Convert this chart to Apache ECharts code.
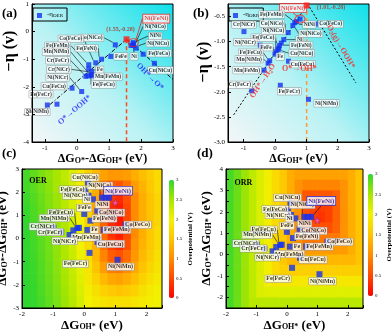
<!DOCTYPE html>
<html>
<head>
<meta charset="utf-8">
<script src="https://cdn.jsdelivr.net/npm/echarts@6/dist/echarts.min.js"></script>
<style>
html,body{margin:0;padding:0;background:#fff;}
#main{width:392px;height:333px;}
</style>
</head>
<body>
<div id="main"></div>
<script>
// compounds, same order in every array below
var names = ['Cu(NiCu)','Fe(FeCo)','Ni(NiCu)','Ni','Ni(NiCo)','NiNi','Ni(FeNi)','FeFe','Co(NiCo)','Fe(FeNi)','Co(FeCo)',
  'Fe','Fe(FeMn)','Fe(FeCu)','Mn(NiMn)','Mn(FeMn)','Cr(NiCr)','Cr(FeCr)','Ni(NiCr)','Cu(FeCu)','Fe(FeCr)','Ni(NiMn)'];
var dGOH = [0.12,0.04,0.14,0.28,0.57,0.68,0.80,0.00,0.42,0.20,1.33,0.10,0.63,-0.17,-0.22,-0.35,-0.99,-0.74,-0.47,0.43,0.17,1.07];
var dGOmOH = [2.42,2.07,1.85,1.69,1.76,1.76,1.76,1.06,1.20,0.77,0.59,0.37,0.37,0.46,0.45,0.35,0.47,0.28,0.15,-0.15,-0.62,-0.92];
var negEtaOER = [-1.15,-0.82,-0.60,-0.50,-0.50,-0.45,-0.40,-0.90,-0.48,-1.00,-1.13,-1.35,-1.20,-1.45,-1.60,-1.60,-1.55,-1.62,-2.17,-2.05,-2.63,-2.66];
var negEtaORR = [-1.13,-1.20,-1.08,-0.96,-0.68,-0.60,-0.55,-1.25,-0.82,-1.03,-0.65,-1.16,-0.62,-1.38,-1.43,-1.57,-0.80,-1.98,-1.07,-1.39,-1.87,-2.15];

var oerApex = [1.55, -0.28];
var orrApex = [1.01, -0.28];
var oerLeftLine = [[-1.05, -2.85], [1.55, -0.28]];
var oerRightLine = [[1.55, -0.28], [3.0, -1.73]];
var oerVertLine = [[1.55, -0.28], [1.55, -4]];
var orrLeftLine = [[-1.32, -2.46], [1.01, -0.28]];
var orrRightLine = [[1.10, -0.31], [2.58, -1.82]];
var orrVertLine = [[1.01, -0.25], [1.01, -3]];
var oerStar = [1.0, 1.55];
var orrStar = [1.0, 1.6];

var oerSteps = ['O*→OOH*', 'OH*→O*'];
var oerStepPos = [[-0.07, -2.84], [2.28, -1.63]];
var orrSteps = ['OH*→H{s|2}O', 'O*→OH*', 'O{s|2}(g)→OOH*'];
var orrStepPos = [[-0.39, -1.78], [0.78, -1.55], [2.1, -1.1]];

// overpotential maps, cell centres
var cellX = [-1.875,-1.625,-1.375,-1.125,-0.875,-0.625,-0.375,-0.125,0.125,0.375,0.625,0.875,1.125,1.375,1.625,1.875,2.125,2.375];
var oerCellY = [2.75,2.25,1.75,1.25,0.75,0.25,-0.25,-0.75,-1.25,-1.75,-2.25,-2.75];
var orrCellY = [3.75,3.25,2.75,2.25,1.75,1.25,0.75,0.25,-0.25,-0.75,-1.25,-1.75,-2.25];
var oerMap = [
  [2.90,2.80,2.70,2.60,2.50,2.35,2.15,1.90,1.65,1.40,1.20,1.10,1.10,1.15,1.30,1.45,1.60,1.75],
  [2.92,2.82,2.72,2.62,2.50,2.38,2.20,1.95,1.70,1.30,0.85,0.65,0.60,0.80,1.15,1.35,1.55,1.75],
  [2.95,2.85,2.75,2.65,2.55,2.40,2.20,1.95,1.70,1.25,0.65,0.40,0.30,0.55,1.00,1.30,1.50,1.70],
  [2.97,2.87,2.77,2.67,2.55,2.40,2.20,1.95,1.70,1.25,0.65,0.30,0.20,0.50,1.00,1.30,1.50,1.70],
  [2.99,2.89,2.78,2.68,2.57,2.43,2.23,2.00,1.70,1.30,0.70,0.30,0.15,0.50,1.00,1.30,1.50,1.70],
  [3.05,2.90,2.80,2.70,2.58,2.45,2.25,2.00,1.75,1.30,0.75,0.35,0.20,0.50,1.00,1.30,1.55,1.75],
  [3.10,2.92,2.82,2.72,2.60,2.45,2.25,2.00,1.75,1.35,0.80,0.45,0.30,0.55,1.05,1.35,1.55,1.75],
  [3.12,2.93,2.83,2.73,2.60,2.45,2.28,2.05,1.80,1.40,0.95,0.65,0.55,0.75,1.10,1.40,1.60,1.80],
  [3.15,2.95,2.85,2.75,2.63,2.48,2.30,2.10,1.85,1.50,1.15,0.90,0.85,1.00,1.25,1.50,1.70,1.85],
  [3.18,2.96,2.86,2.76,2.65,2.50,2.33,2.12,1.88,1.65,1.40,1.25,1.20,1.30,1.45,1.65,1.80,1.90],
  [3.20,2.97,2.88,2.78,2.67,2.52,2.37,2.17,1.95,1.80,1.65,1.55,1.50,1.55,1.65,1.80,1.90,1.97],
  [3.22,2.98,2.90,2.80,2.70,2.55,2.40,2.20,2.00,1.90,1.85,1.80,1.80,1.80,1.85,1.90,1.95,2.00]
];
var orrMap = [
  [2.90,2.75,2.55,2.35,2.15,1.95,1.75,1.55,1.30,1.20,1.20,1.20,1.20,1.20,1.20,1.20,1.30,1.50],
  [2.90,2.75,2.55,2.35,2.15,1.95,1.75,1.55,1.30,1.05,0.95,0.95,0.95,0.95,0.95,1.05,1.30,1.50],
  [2.90,2.75,2.55,2.35,2.15,1.95,1.75,1.55,1.30,1.05,0.60,0.60,0.60,0.60,0.70,1.05,1.30,1.50],
  [2.90,2.75,2.55,2.35,2.15,1.95,1.75,1.55,1.30,1.05,0.55,0.45,0.42,0.45,0.70,1.05,1.30,1.50],
  [2.90,2.75,2.55,2.35,2.15,1.95,1.75,1.55,1.30,1.05,0.55,0.42,0.35,0.45,0.70,1.05,1.30,1.50],
  [2.90,2.75,2.55,2.35,2.15,1.95,1.75,1.55,1.30,1.05,0.60,0.55,0.55,0.55,0.70,1.05,1.30,1.50],
  [2.90,2.75,2.55,2.35,2.15,1.95,1.75,1.55,1.30,1.05,0.85,0.85,0.85,0.85,0.85,1.05,1.30,1.50],
  [2.90,2.75,2.55,2.35,2.15,1.95,1.75,1.55,1.30,1.13,1.13,1.13,1.13,1.13,1.13,1.13,1.30,1.50],
  [2.90,2.75,2.55,2.35,2.15,1.95,1.75,1.55,1.38,1.38,1.38,1.38,1.38,1.38,1.38,1.38,1.38,1.50],
  [2.90,2.75,2.55,2.35,2.15,1.95,1.75,1.63,1.63,1.63,1.63,1.63,1.63,1.63,1.63,1.63,1.63,1.63],
  [2.90,2.75,2.55,2.35,2.15,1.95,1.88,1.88,1.88,1.88,1.88,1.88,1.88,1.88,1.88,1.88,1.88,1.88],
  [2.90,2.75,2.55,2.35,2.15,2.13,2.13,2.13,2.13,2.13,2.13,2.13,2.13,2.13,2.13,2.13,2.13,2.13],
  [2.90,2.75,2.55,2.38,2.38,2.38,2.38,2.38,2.38,2.38,2.38,2.38,2.38,2.38,2.38,2.38,2.38,2.38]
];

// label placement [dx, dy, leader line]
var shiftA = [[6,7,0],[16,-1,0],[22,-5,1],[3,11,1],[22,-19,1],[22,-8,1],[23,-24,1],[10,0,0],[-24,-7,1],[-15,-11,1],[-25,-24,1],
  [11,1,1],[-31,-19,1],[12,13,1],[-35,-24,1],[20,1,1],[-33,-5,1],[-28,-16,1],[-24,-14,1],[-18,-2,0],[-16,-10,0],[-10,7,0]];
var shiftB = [[23,5,1],[-13,-14,1],[-6,-15,1],[16,0,1],[18,8,1],[13,3,1],[-7,-11,1],[-9,-7,1],[-16,-9,1],[20,2,1],[14,0,0],
  [2,7,0],[-23,-8,1],[-19,-8,1],[-19,-4,1],[-17,0,0],[0,-7,0],[-12,-6,0],[-15,-3,0],[14,3,0],[9,6,0],[18,4,0]];
var shiftC = [[-3,-5,0],[-13,-1,0],[-13,0,0],[-6,0,0],[-2,-12,1],[-3,7,1],[9,-7,1],[0,-6,0],[14,2,0],[14,-2,0],[12,0,0],
  [7,0,0],[13,0,0],[-18,-15,1],[-23,-10,1],[13,7,1],[-11,-1,0],[-11,0,0],[-5,6,0],[13,2,0],[-14,11,0],[3,7,0]];
var shiftD = shiftC.map(function (s, i) { return i === 6 ? [10, -16, 1] : s; });

var SERIF = 'Liberation Serif';
var BLUE = '#1432f0';
var RED = '#ff1a1a';
var heatColors = ['#ff0000','#ff4800','#ff8c00','#ffc400','#f2f200','#a8e600','#2fd62f'];

var chart = echarts.init(document.getElementById('main'));

function fmtInt(v) { return Math.abs(v - Math.round(v)) < 1e-6 ? String(Math.round(v)) : ''; }

function valAxis(gi, min, max, interval, fmt) {
  var ax = {
    type: 'value', gridIndex: gi, min: min, max: max, z: 6,
    axisLine: { show: true, onZero: false, lineStyle: { color: '#000', width: 1 } },
    axisTick: { show: true, inside: true, length: 3, lineStyle: { color: '#000', width: 1 } },
    axisLabel: { color: '#000', fontSize: 7, fontFamily: SERIF, margin: 3, formatter: fmt },
    splitLine: { show: false }
  };
  if (interval) ax.interval = interval;
  return ax;
}

function richName(big, small) {
  return {
    rich: {
      n: { fontFamily: SERIF, fontWeight: 'bold', fontSize: big, color: '#000', padding: [0, 0, Math.round(big * 0.3), 0] },
      s: { fontFamily: SERIF, fontWeight: 'bold', fontSize: small, color: '#000' }
    }
  };
}
var nameOmOH = '{n|ΔG}{s|O*}{n|-ΔG}{s|OH*}{n| (eV)}';
var nameOH = '{n|ΔG}{s|OH*}{n| (eV)}';

var xAxes = [
  valAxis(0, -1.4, 3, null, fmtInt),
  valAxis(1, -1.5, 3, null, fmtInt),
  valAxis(2, -2, 2.5, 1, fmtInt),
  valAxis(3, -2, 2.5, 1, fmtInt),
  { type: 'value', gridIndex: 4, show: false },
  { type: 'value', gridIndex: 5, show: false }
];
xAxes[0].name = nameOmOH; xAxes[0].nameLocation = 'middle'; xAxes[0].nameGap = 5; xAxes[0].nameTextStyle = richName(12, 8);
xAxes[1].name = nameOH; xAxes[1].nameLocation = 'middle'; xAxes[1].nameGap = 5; xAxes[1].nameTextStyle = richName(12, 8);
xAxes[2].name = nameOH; xAxes[2].nameLocation = 'middle'; xAxes[2].nameGap = 10; xAxes[2].nameTextStyle = richName(13, 8);
xAxes[3].name = nameOH; xAxes[3].nameLocation = 'middle'; xAxes[3].nameGap = 10; xAxes[3].nameTextStyle = richName(13, 8);

var yAxes = [
  valAxis(0, -4, 1, 1, fmtInt),
  valAxis(1, -3, -0.25, 0.5, function (v) { return v.toFixed(1); }),
  valAxis(2, -3, 3, 1, fmtInt),
  valAxis(3, -2.5, 4, 0.5, fmtInt)
];
yAxes[1].axisLabel.showMaxLabel = false;
[2, 3].forEach(function (i) {
  yAxes[i].name = nameOmOH; yAxes[i].nameLocation = 'middle'; yAxes[i].nameRotate = 90;
  yAxes[i].nameGap = 8; yAxes[i].nameTextStyle = richName(13, 8);
});
[4, 5].forEach(function (gi) {
  yAxes.push({
    type: 'value', gridIndex: gi, position: 'right', min: 0, max: 3, interval: 0.5,
    axisLine: { show: false }, axisTick: { show: false }, splitLine: { show: false },
    axisLabel: { fontSize: 5, color: '#000', margin: 2, fontFamily: SERIF },
    name: 'Overpotential (V)', nameLocation: 'middle', nameRotate: 90, nameGap: 13,
    nameTextStyle: { fontSize: 7, fontWeight: 'bold', fontFamily: SERIF, color: '#000' }
  });
});

var cyanBg = { type: 'linear', x: 0, y: 1, x2: 1, y2: 0,
  colorStops: [{ offset: 0, color: '#f4f6f7' }, { offset: 0.45, color: '#b8f2f4' }, { offset: 1, color: '#0ee0ea' }] };
function grid(l, t, w, h, bg, z) {
  return { left: l, top: t, width: w, height: h, show: true, backgroundColor: bg, borderColor: '#000', borderWidth: 1,
    containLabel: false, outerBoundsMode: 'none', z: z || 0 };
}
var grids = [
  grid(32, 4, 141, 138, cyanBg),
  grid(228, 4, 141, 138, cyanBg),
  grid(22, 169, 140, 139, 'rgba(0,0,0,0)', 5),
  grid(226, 169, 137, 139, 'rgba(0,0,0,0)', 5),
  { left: 169, top: 180, width: 5, height: 118, show: false, containLabel: false, outerBoundsMode: 'none' },
  { left: 368, top: 174, width: 5, height: 122, show: false, containLabel: false, outerBoundsMode: 'none' }
];

function cells(rowsY, map) {
  var out = [];
  map.forEach(function (row, i) {
    row.forEach(function (v, j) { out.push([cellX[j], rowsY[i], v]); });
  });
  return out;
}
var cw = (cellX[1] - cellX[0]) / 2;
function heatSeries(gi, rowsY, map) {
  var ch = (rowsY[0] - rowsY[1]) / 2;
  return {
    type: 'custom', xAxisIndex: gi, yAxisIndex: gi, clip: true, silent: true, z: 1,
    data: cells(rowsY, map),
    renderItem: function (params, api) {
      var a = api.coord([api.value(0) - cw, api.value(1) + ch]);
      var b = api.coord([api.value(0) + cw, api.value(1) - ch]);
      return { type: 'rect', shape: { x: a[0], y: a[1], width: b[0] - a[0] + 0.6, height: b[1] - a[1] + 0.6 },
        style: { fill: api.visual('color') } };
    }
  };
}

function pointSeries(name, gi, xs, ys, shifts, size, fs, special) {
  return {
    type: 'scatter', name: name, xAxisIndex: gi, yAxisIndex: gi, symbol: 'rect', symbolSize: size, z: 4,
    itemStyle: { color: BLUE },
    data: xs.map(function (x, i) {
      var item = { value: [x, ys[i]], name: names[i], labelLine: { show: !!shifts[i][2] } };
      if (i === 6) { item.label = special.label; item.labelLine = special.labelLine; }
      return item;
    }),
    label: { show: true, position: 'inside', formatter: '{b}', fontFamily: SERIF, fontWeight: 'bold', fontSize: fs,
      color: '#000', backgroundColor: '#fff', borderColor: '#8a8a8a', borderWidth: 0.5, padding: [1, 1, 0, 1] },
    labelLine: { show: false, lineStyle: { color: '#000', width: 0.6 } },
    labelLayout: function (p) { var s = shifts[p.dataIndex]; return { dx: s[0], dy: s[1] }; }
  };
}
var redSpecial = { label: { color: RED, borderColor: RED, borderWidth: 0.8, fontSize: 6.5 },
  labelLine: { show: true, lineStyle: { color: RED, width: 0.8 } } };
var blueSpecial = { label: { color: '#1010b0', borderColor: '#2030e0', borderWidth: 0.8, fontSize: 7 },
  labelLine: { show: true, lineStyle: { color: '#000', width: 0.6 } } };

function lineSeries(gi, pts, color, type, width) {
  return { type: 'line', xAxisIndex: gi, yAxisIndex: gi, data: pts, symbol: 'none', silent: true, z: 3,
    lineStyle: { color: color, type: type, width: width } };
}
function textSeries(gi, pts, texts, rotates, color, fs) {
  return {
    type: 'scatter', xAxisIndex: gi, yAxisIndex: gi, symbolSize: 0, silent: true, z: 5,
    data: pts.map(function (p, i) { return { value: p, label: { formatter: texts[i], rotate: rotates[i] } }; }),
    label: { show: true, position: 'inside', color: color, fontFamily: SERIF, fontWeight: 'bold', fontSize: fs,
      rich: { s: { color: color, fontFamily: SERIF, fontWeight: 'bold', fontSize: fs * 0.7, padding: [4, 0, 0, 0] } } }
  };
}
function markSeries(gi, pt, opts) {
  return Object.assign({ type: 'scatter', xAxisIndex: gi, yAxisIndex: gi, silent: true, z: 5, data: [pt] }, opts);
}
var starPath = 'path://M50 0L61.8 35.1 98.9 35.1 68.9 56.8 80.3 91.9 50 70.2 19.7 91.9 31.1 56.8 1.1 35.1 38.2 35.1Z';

var series = [
  heatSeries(2, oerCellY, oerMap),
  heatSeries(3, orrCellY, orrMap),
  lineSeries(0, oerLeftLine, '#000', [4, 2, 1, 2], 1),
  lineSeries(0, oerRightLine, '#000', [4, 2, 1, 2], 1),
  lineSeries(0, oerVertLine, '#ff4a1c', [4, 3], 1.5),
  lineSeries(1, orrLeftLine, '#000', [2, 2], 1),
  lineSeries(1, orrRightLine, '#000', [2, 2], 1),
  lineSeries(1, orrVertLine, '#ff9a3c', [4, 3], 1.5),
  pointSeries('nOER', 0, dGOmOH, negEtaOER, shiftA, 5, 5.5, redSpecial),
  pointSeries('nORR', 1, dGOH, negEtaORR, shiftB, 5, 5.5, redSpecial),
  pointSeries('cOER', 2, dGOH, dGOmOH, shiftC, 6, 6, blueSpecial),
  pointSeries('dORR', 3, dGOH, dGOmOH, shiftD, 6, 6, blueSpecial),
  markSeries(0, oerApex, { symbol: 'rect', symbolSize: 6, itemStyle: { color: RED },
    label: { show: true, position: 'top', offset: [-6, 1], formatter: '(' + oerApex[0] + ',' + oerApex[1] + ')',
      color: '#b22a1e', fontFamily: SERIF, fontWeight: 'bold', fontSize: 6 } }),
  markSeries(1, orrApex, { symbol: 'rect', symbolSize: 6, itemStyle: { color: RED },
    label: { show: true, position: 'right', offset: [2, 2], formatter: '(' + orrApex[0] + ',' + orrApex[1] + ')',
      color: '#b22a1e', fontFamily: SERIF, fontWeight: 'bold', fontSize: 6 } }),
  markSeries(0, [dGOmOH[6], negEtaOER[6]], { symbol: 'circle', symbolSize: [10, 8],
    itemStyle: { color: 'rgba(0,0,0,0)', borderColor: RED, borderWidth: 1 } }),
  markSeries(1, [dGOH[6], negEtaORR[6]], { symbol: 'circle', symbolSize: [10, 8],
    itemStyle: { color: 'rgba(0,0,0,0)', borderColor: RED, borderWidth: 1 } }),
  markSeries(2, oerStar, { symbol: starPath, symbolSize: 7, itemStyle: { color: '#ff5cc8', borderColor: '#8a1a5e', borderWidth: 0.5 } }),
  markSeries(3, orrStar, { symbol: starPath, symbolSize: 7, itemStyle: { color: '#ff5cc8', borderColor: '#8a1a5e', borderWidth: 0.5 } }),
  textSeries(0, oerStepPos, oerSteps, [41, -45], '#1a1aff', 8),
  textSeries(1, orrStepPos, orrSteps, [56, 0, -60], '#ff2020', 8)
];

function legendAt(l, name, sub) {
  return {
    left: l, top: 8, orient: 'vertical', data: [{ name: name, icon: 'rect' }], itemWidth: 5, itemHeight: 5,
    padding: [3, 4, 3, 4], borderColor: '#000', borderWidth: 1, backgroundColor: 'rgba(255,255,255,0.15)',
    formatter: function () { return '{n|-η}{s|' + sub + '}'; },
    textStyle: { rich: {
      n: { fontFamily: SERIF, fontSize: 7, color: '#000', padding: [0, 0, 2, 0] },
      s: { fontFamily: SERIF, fontSize: 5, color: '#000' } } }
  };
}

function txt(x, y, text, font, rot) {
  return { type: 'text', x: x, y: y, rotation: rot || 0, z: 100,
    style: { text: text, font: font, fill: '#000', align: 'left', verticalAlign: 'middle', textAlign: 'left', textVerticalAlign: 'middle' } };
}
function ctxt(x, y, text, font, rot) {
  var t = txt(x, y, text, font, rot);
  t.style.align = t.style.textAlign = 'center';
  return t;
}
function tagBox(x, y, w, label) {
  return { type: 'group', x: x, y: y, z: 100, children: [
    { type: 'rect', shape: { x: 1.5, y: 1.5, width: w, height: 11 }, style: { fill: '#444' } },
    { type: 'rect', shape: { x: 0, y: 0, width: w, height: 11 }, style: { fill: '#fff', stroke: '#000', lineWidth: 0.8 } },
    ctxt(w / 2, 6, label, 'bold 8px "Liberation Serif"')
  ] };
}

chart.setOption({
  animation: false,
  textStyle: { fontFamily: SERIF },
  grid: grids,
  xAxis: xAxes,
  yAxis: yAxes,
  legend: [legendAt(33, 'nOER', 'OER'), legendAt(229, 'nORR', 'ORR')],
  visualMap: [
    { type: 'continuous', seriesIndex: 0, dimension: 2, min: 0, max: 3, calculable: false, left: 169, top: 180,
      itemWidth: 5, itemHeight: 118, padding: 0, inRange: { color: heatColors }, outOfRange: { color: '#36e6c6' } },
    { type: 'continuous', seriesIndex: 1, dimension: 2, min: 0, max: 3, calculable: false, left: 368, top: 174,
      itemWidth: 5, itemHeight: 122, padding: 0, inRange: { color: heatColors }, outOfRange: { color: '#36e6c6' } }
  ],
  graphic: [
    txt(2, 14, '(a)', 'bold 13px "Liberation Serif"'),
    txt(193, 14, '(b)', 'bold 13px "Liberation Serif"'),
    txt(2, 154, '(c)', 'bold 13px "Liberation Serif"'),
    txt(197, 154, '(d)', 'bold 13px "Liberation Serif"'),
    ctxt(10, 51, '−η (v)', 'bold 16px "Liberation Serif"', Math.PI / 2),
    ctxt(204, 62, '−η (v)', 'bold 16px "Liberation Serif"', Math.PI / 2),
    tagBox(26, 175, 24, 'OER'),
    tagBox(231, 177, 25, 'ORR')
  ],
  series: series
});
</script>
</body>
</html>
